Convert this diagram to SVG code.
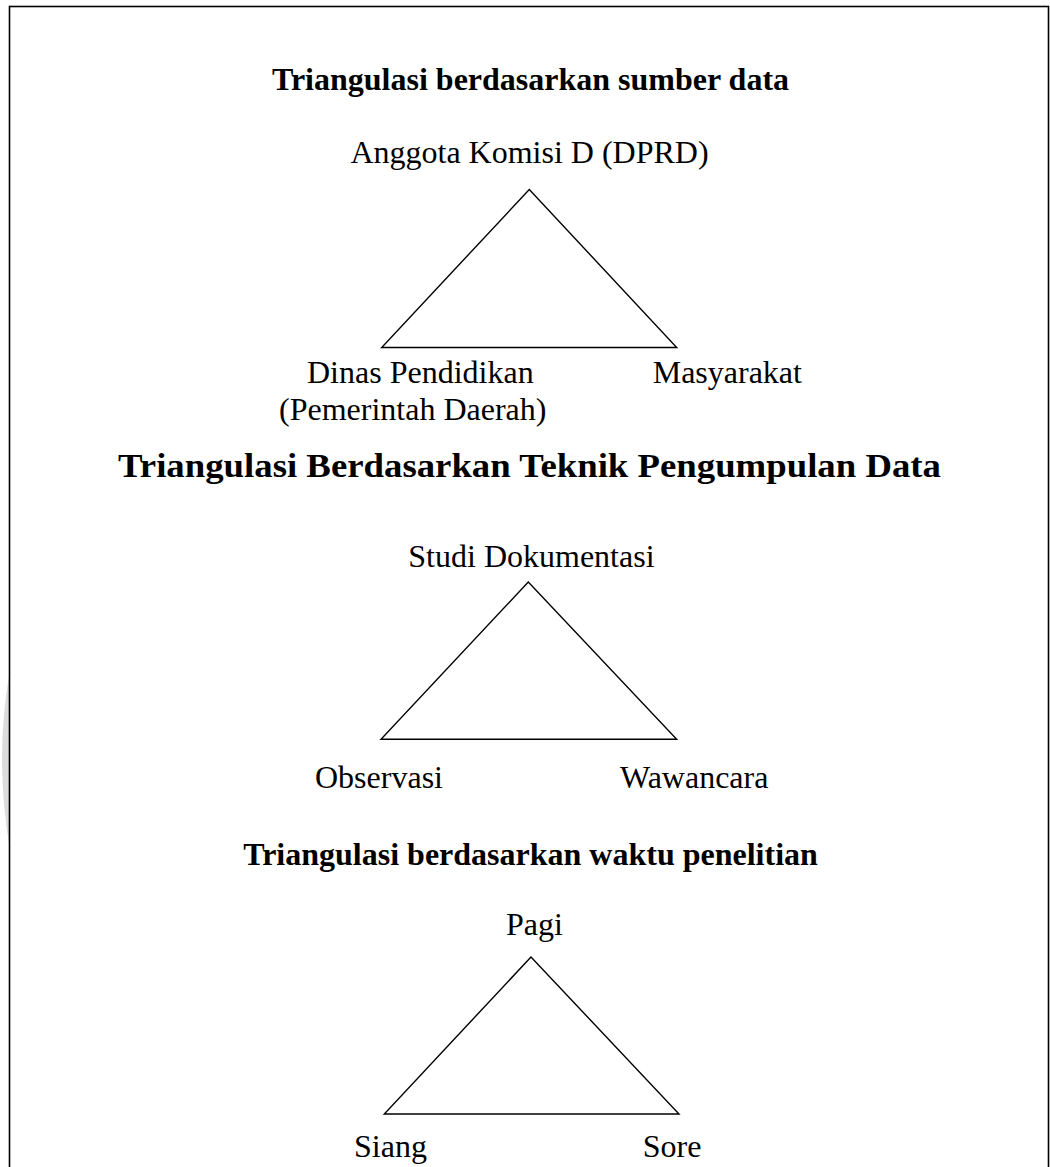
<svg xmlns="http://www.w3.org/2000/svg" width="1050" height="1167" viewBox="0 0 1050 1167">
<style>
.t{font-family:"Liberation Serif","Times New Roman",serif;font-size:32px;fill:#000}
.b{font-weight:bold}
.c{text-anchor:middle}
.tri{fill:none;stroke:#000;stroke-width:1.4;stroke-linejoin:miter}
</style>
<rect width="1050" height="1167" fill="#fff"/>
<path d="M10 670 Q -6 758 10 850 Z" fill="#dcdcdc"/>
<rect x="9.5" y="6.5" width="1039" height="1200" fill="none" stroke="#000" stroke-width="1.6"/>
<g id="section1">
<text class="t b c" x="530.5" y="90">Triangulasi berdasarkan sumber data</text>
<g id="node-anggota"><text class="t c" x="529.5" y="163">Anggota Komisi D (DPRD)</text></g>
<g id="node-dinas"><text class="t" x="307" y="383">Dinas Pendidikan</text><text class="t" x="279" y="420">(Pemerintah Daerah)</text></g>
<g id="node-masyarakat"><text class="t" x="652.7" y="383">Masyarakat</text></g>
</g>
<g id="section2">
<text class="t b" x="118" y="477" style="font-size:33px" textLength="823" lengthAdjust="spacingAndGlyphs">Triangulasi Berdasarkan Teknik Pengumpulan Data</text>
<g id="node-studi"><text class="t" x="408.3" y="566.7">Studi Dokumentasi</text></g>
<g id="node-observasi"><text class="t" x="315" y="788">Observasi</text></g>
<g id="node-wawancara"><text class="t" x="620" y="788">Wawancara</text></g>
</g>
<g id="section3">
<text class="t b c" x="530.5" y="865">Triangulasi berdasarkan waktu penelitian</text>
<g id="node-pagi"><text class="t" x="506" y="935">Pagi</text></g>
<g id="node-siang"><text class="t" x="354" y="1156.5">Siang</text></g>
<g id="node-sore"><text class="t" x="642.7" y="1156.5">Sore</text></g>
</g>
<g id="connectors">
<polygon class="tri" points="529.3,189.5 381.7,347.5 676.7,347.5"/>
<polygon class="tri" points="528.3,582 381,739.3 676.7,739.3"/>
<polygon class="tri" points="531,957 384.3,1114 679,1114"/>
</g>
</svg>
